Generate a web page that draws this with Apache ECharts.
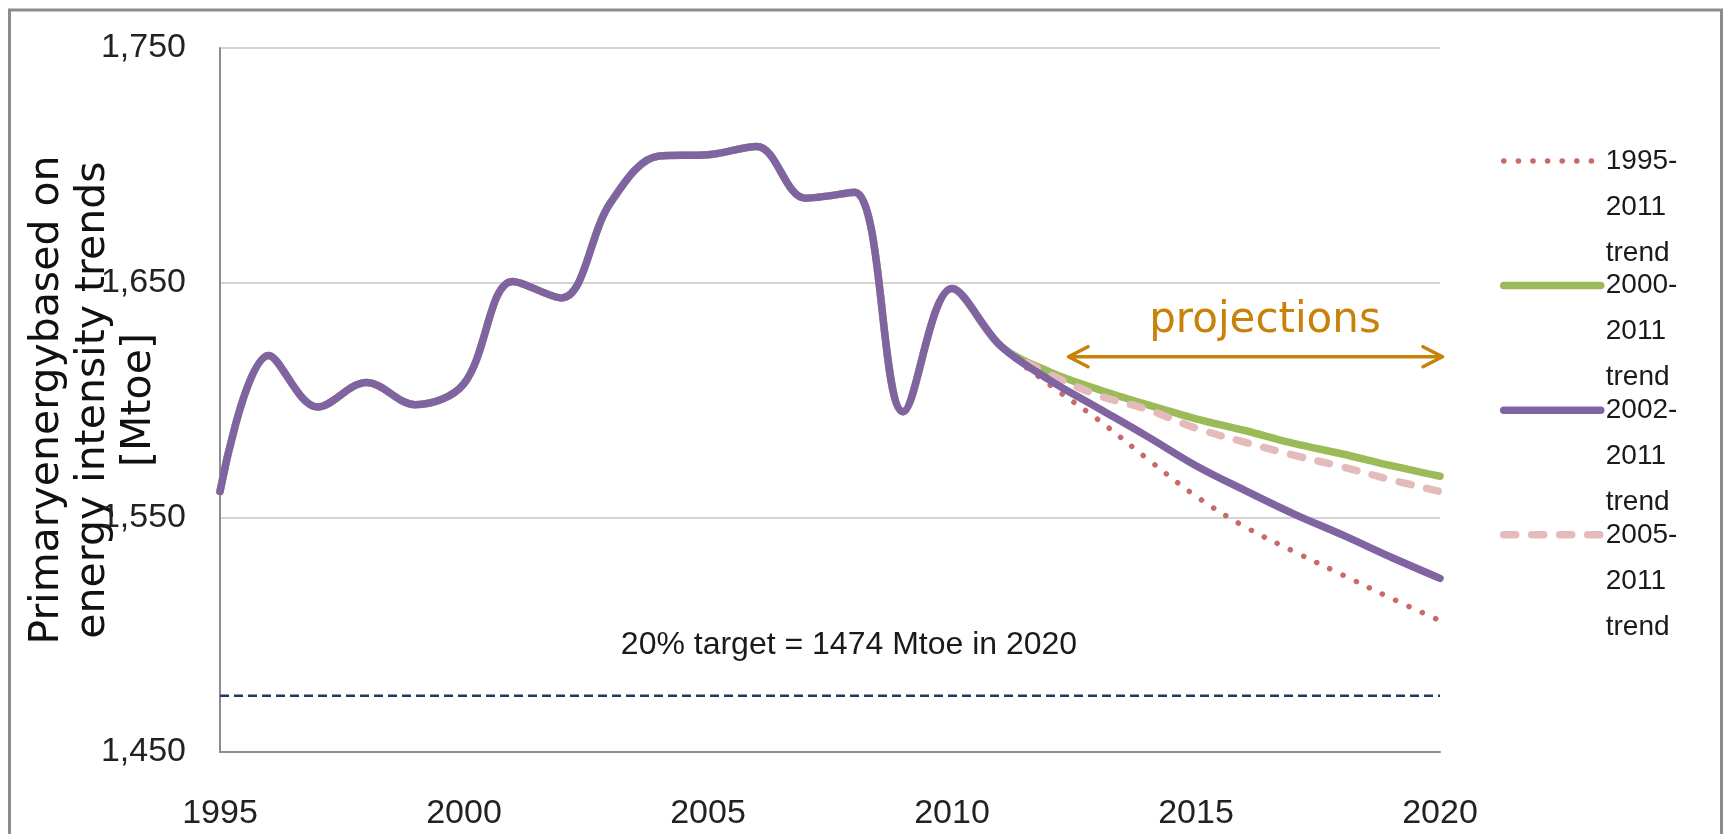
<!DOCTYPE html>
<html>
<head>
<meta charset="utf-8">
<script src="https://cdn.jsdelivr.net/npm/echarts@6/dist/echarts.min.js"></script>
<style>
html,body{margin:0;padding:0;background:#fff;}
#c{width:1723px;height:834px;}
</style>
</head>
<body>
<div id="c"></div>
<script>
// ---- data ----
const histYears = [1995,1996,1997,1998,1999,2000,2001,2002,2003,2004,2005,2006,2007,2008,2009,2010,2011];
const histValues = [1561,1619,1597,1607.5,1598,1607,1650.5,1643.5,1684,1704,1704.5,1708,1686,1688.5,1595,1647.5,1623];
const projYears = [2012,2013,2014,2015,2016,2017,2018,2019,2020];
const trend1995 = [1606.5,1591.5,1575,1559,1546,1535.5,1525.5,1515.5,1506];
const trend2000 = [1612,1604.5,1598,1592,1587,1581.5,1577,1572,1567.5];
const trend2002 = [1608.5,1596.5,1584.5,1572,1561.5,1551.5,1542.5,1533,1524];
const trend2005 = [1611,1602,1596,1588,1582,1576.5,1571.5,1566,1561];
const seriesNames = ['1995-2011 trend','2000-2011 trend','2002-2011 trend','2005-2011 trend'];
const targetValue = 1474;
const targetYears = [1995, 2020];
const xTicks = {min:1995, max:2020, step:5};
const yTicks = {min:1450, max:1750, step:100};
const yAxisTitle = 'Primaryenergybased on\nenergy intensity trends\n[Mtoe]';
const targetText = '20% target = 1474 Mtoe in 2020';
const projText = 'projections';

function build(proj){
  return histYears.map((y,i)=>[y, histValues[i]]).concat(projYears.map((y,i)=>[y, proj[i]]));
}

const narrow = "'Liberation Sans Narrow','Liberation Sans',Arial,sans-serif";
const wide = "'DejaVu Sans',Verdana,sans-serif";
const orange = '#C8820A';

const chart = echarts.init(document.getElementById('c'), null, {renderer:'canvas'});
const option = {
  animation:false,
  backgroundColor:'#ffffff',
  grid:{left:220,right:283,top:48,bottom:82,containLabel:false,outerBoundsMode:'none'},
  xAxis:{
    type:'value', min:xTicks.min, max:xTicks.max, interval:xTicks.step,
    axisLine:{show:true,onZero:false,lineStyle:{color:'#8c8c8c',width:2}},
    axisTick:{show:false}, splitLine:{show:false},
    axisLabel:{fontSize:34,color:'#222',fontFamily:narrow,margin:45,formatter:v=>String(v)}
  },
  yAxis:{
    type:'value', min:yTicks.min, max:yTicks.max, interval:yTicks.step,
    axisLine:{show:true,lineStyle:{color:'#8c8c8c',width:2}},
    axisTick:{show:false},
    splitLine:{show:true,lineStyle:{color:'#d4d4d4',width:2}},
    axisLabel:{fontSize:34,color:'#222',fontFamily:narrow,margin:34,formatter:v=>v.toLocaleString('en-US')},
    name:yAxisTitle, nameLocation:'middle', nameRotate:90, nameGap:57.5, nameMoveOverlap:false,
    nameTextStyle:{fontFamily:wide,fontSize:41,lineHeight:46,color:'#111'}
  },
  legend:{
    orient:'vertical', left:1500, top:46, padding:0,
    itemWidth:97, itemHeight:2, itemGap:-105.4,
    selectedMode:false,
    data:seriesNames,
    formatter:n=>'\n\n'+n.replace('-','-\n').replace(' ','\n'),
    textStyle:{fontFamily:narrow,fontSize:28,color:'#1a1a1a',lineHeight:46},
    lineStyle:{width:'inherit',cap:'round'},
    itemStyle:{opacity:0}
  },
  series:[
    {name:seriesNames[0],type:'line',data:build(trend1995),smooth:0.35,symbol:'none',z:3,
     itemStyle:{color:'#C96A6A'},lineStyle:{color:'#C96A6A',width:5.5,type:[0.1,14.5],cap:'round'}},
    {name:seriesNames[1],type:'line',data:build(trend2000),smooth:0.35,symbol:'none',z:2,
     itemStyle:{color:'#9BBB59'},lineStyle:{color:'#9BBB59',width:7.5,type:'solid',cap:'round'}},
    {name:seriesNames[2],type:'line',data:build(trend2002),smooth:0.35,symbol:'none',z:5,
     itemStyle:{color:'#8064A2'},lineStyle:{color:'#8064A2',width:7.5,type:'solid',cap:'round'}},
    {name:seriesNames[3],type:'line',data:build(trend2005),smooth:0.35,symbol:'none',z:4,
     itemStyle:{color:'#E4BABA'},lineStyle:{color:'#E4BABA',width:7.5,type:[12,16],cap:'round'}},
    {name:'target',type:'line',data:targetYears.map(y=>[y,targetValue]),symbol:'none',z:1,silent:true,
     itemStyle:{color:'#1F3864'},lineStyle:{color:'#1F3864',width:2.5,type:[9,5]}}
  ],
  graphic:[
    {type:'rect',silent:true,z:-10,shape:{x:9.5,y:10,width:1712,height:900},
     style:{fill:null,stroke:'#8c8c8c',lineWidth:3}},
    {type:'text',silent:true,x:849,y:645,
     style:{text:targetText,fontSize:32,fontFamily:narrow,fill:'#1a1a1a',
            align:'center',verticalAlign:'middle',textAlign:'center',textVerticalAlign:'middle'}},
    {type:'text',silent:true,x:1265,y:321,
     style:{text:projText,fontSize:42,fontFamily:wide,fill:orange,
            align:'center',verticalAlign:'middle',textAlign:'center',textVerticalAlign:'middle'}},
    {type:'polyline',silent:true,shape:{points:[[1069,356.7],[1442,356.7]]},
     style:{stroke:orange,lineWidth:3.5,fill:null}},
    {type:'polyline',silent:true,shape:{points:[[1088,346.7],[1068.5,356.7],[1088,366.7]]},
     style:{stroke:orange,lineWidth:3.5,fill:null,lineCap:'round',lineJoin:'round'}},
    {type:'polyline',silent:true,shape:{points:[[1423,346.7],[1442.5,356.7],[1423,366.7]]},
     style:{stroke:orange,lineWidth:3.5,fill:null,lineCap:'round',lineJoin:'round'}}
  ]
};
chart.setOption(option);
</script>
</body>
</html>
